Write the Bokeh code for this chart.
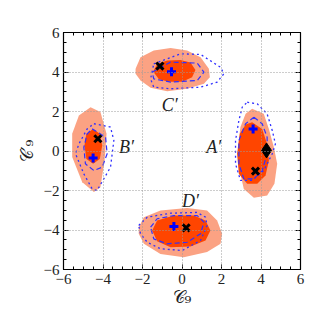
from bokeh.plotting import figure
from bokeh.models import LinearAxis, SingleIntervalTicker, CustomJSTickFormatter, Range1d
from bokeh.core.properties import value
from bokeh.embed import file_html
from bokeh.resources import INLINE

# ---- data ----
# light (outer) filled regions
light_A_x = [3.55, 4.14, 4.40, 4.65, 4.82, 4.68, 4.31, 3.64, 3.13, 2.88, 2.83, 2.96, 3.22]
light_A_y = [2.14, 1.88, 1.12, 0.19, -0.65, -1.66, -2.25, -2.37, -1.92, -0.82, 0.19, 1.21, 1.88]
light_B_x = [-4.63, -4.13, -3.82, -3.92, -4.13, -4.46, -5.05, -5.56, -5.56, -5.22]
light_B_y = [2.22, 1.97, 0.87, -0.48, -1.83, -2.08, -1.58, -0.31, 0.87, 1.80]
light_C_x = [-2.35, -2.10, -1.43, -0.58, 0.26, 0.94, 1.36, 1.41, 1.11, 0.26, -0.75, -1.59, -2.10, -2.35]
light_C_y = [4.16, 4.75, 5.09, 5.21, 5.09, 4.75, 4.16, 3.74, 3.40, 3.15, 3.03, 3.20, 3.57, 3.91]
light_D_x = [-2.19, -1.93, -1.09, 0.26, 1.27, 1.78, 2.03, 1.95, 1.27, 0.09, -1.09, -1.93, -2.19]
light_D_y = [-3.86, -3.35, -3.01, -2.88, -3.01, -3.52, -4.19, -4.70, -5.12, -5.38, -5.21, -4.70, -4.19]

# dark (inner) filled regions
dark_A_x = [3.55, 4.06, 4.31, 4.40, 4.23, 3.81, 3.30, 2.88, 2.79, 2.93, 3.22]
dark_A_y = [1.46, 1.12, 0.36, -0.48, -1.24, -1.66, -1.66, -1.16, -0.14, 0.87, 1.34]
dark_B_x = [-4.50, -4.16, -4.04, -4.16, -4.50, -4.84, -4.94, -4.84]
dark_B_y = [1.12, 0.87, 0.28, -0.40, -0.65, -0.40, 0.28, 0.87]
dark_C_x = [-1.46, -1.26, -0.75, -0.08, 0.43, 0.68, 0.51, 0.01, -0.67, -1.17]
dark_C_y = [4.02, 4.41, 4.58, 4.61, 4.48, 4.10, 3.73, 3.51, 3.51, 3.63]
dark_D_x = [-1.51, -1.26, -0.41, 0.60, 1.19, 1.44, 1.19, 0.43, -0.58, -1.26]
dark_D_y = [-4.02, -3.52, -3.27, -3.27, -3.52, -4.02, -4.53, -4.84, -4.87, -4.57]

# blue dotted (outer) contours
dot_A_x = [3.30, 3.81, 4.31, 4.57, 4.73, 4.57, 4.14, 3.55, 2.96, 2.71, 2.71, 2.88, 3.05]
dot_A_y = [2.47, 2.39, 1.88, 1.04, 0.36, -0.14, -0.99, -1.49, -1.49, -0.65, 0.53, 1.55, 2.22]
dot_B_x = [-4.46, -3.62, -3.45, -3.62, -4.30, -4.55, -4.97, -5.39, -5.22, -4.80]
dot_B_y = [1.38, 1.21, 0.53, -0.82, -2.00, -1.92, -1.16, -0.14, 0.36, 1.12]
dot_C_x = [-1.43, -0.08, 0.94, 1.95, 2.12, 1.78, 0.94, -0.58, -1.43, -1.59]
dot_C_y = [4.41, 4.92, 4.89, 4.24, 3.91, 3.49, 3.23, 3.15, 3.23, 3.65]
dot_D_x = [-2.19, -1.76, -0.58, 0.77, 1.19, 1.27, 0.94, 0.01, -1.09, -1.76, -2.10]
dot_D_y = [-3.77, -3.35, -3.15, -3.11, -3.35, -3.77, -4.53, -5.04, -4.95, -4.62, -4.19]

# blue dashed (inner) contours
dash_A_x = [3.64, 4.06, 4.31, 4.31, 4.06, 3.64, 3.13, 2.88, 2.88, 3.22]
dash_A_y = [1.71, 1.38, 0.70, -0.14, -0.99, -1.41, -1.41, -0.65, 0.53, 1.38]
dash_B_x = [-4.55, -3.87, -3.79, -4.04, -4.46, -4.89, -4.97, -4.80]
dash_B_y = [1.12, 0.70, -0.14, -0.82, -0.99, -0.65, 0.19, 0.87]
dash_C_x = [-1.51, -0.58, 0.77, 1.11, 0.77, -0.58, -1.43]
dash_C_y = [3.99, 4.50, 4.45, 3.99, 3.57, 3.49, 3.65]
dash_D_x = [-1.59, -1.26, -0.41, 0.77, 1.11, 0.94, 0.26, -0.75, -1.43]
dash_D_y = [-3.86, -3.43, -3.27, -3.27, -3.60, -4.19, -4.62, -4.70, -4.45]

# best-fit points
xmark_x = [-1.12, -4.26, 3.72, 0.21]
xmark_y = [4.30, 0.62, -1.02, -3.89]
plus_x = [-0.53, -4.50, 3.60, -0.41]
plus_y = [4.01, -0.35, 1.12, -3.82]
diamond_x = [4.28]
diamond_y = [0.03]

# region labels
label_text = ["C\u2032", "B\u2032", "A\u2032", "D\u2032"]
label_x = [-0.62, -2.81, 1.61, 0.43]
label_y = [2.31, 0.19, 0.19, -2.51]

x_label = "\U0001D49E\u2089"
y_label = "\U0001D49E\u2032\u2089"

# ---- figure ----
p = figure(width=310, height=310, x_range=Range1d(-6, 6), y_range=Range1d(-6, 6),
           output_backend="svg", toolbar_location=None,
           min_border_left=63, min_border_right=10, min_border_top=32, min_border_bottom=41)
p.background_fill_color = "white"
p.border_fill_color = "white"
p.outline_line_color = "black"
p.outline_line_width = 1.2

def close(a):
    return list(a) + [a[0]]

light_xs = [light_A_x, light_B_x, light_C_x, light_D_x]
light_ys = [light_A_y, light_B_y, light_C_y, light_D_y]
dark_xs = [dark_A_x, dark_B_x, dark_C_x, dark_D_x]
dark_ys = [dark_A_y, dark_B_y, dark_C_y, dark_D_y]
dot_xs = [close(a) for a in [dot_A_x, dot_B_x, dot_C_x, dot_D_x]]
dot_ys = [close(a) for a in [dot_A_y, dot_B_y, dot_C_y, dot_D_y]]
dash_xs = [close(a) for a in [dash_A_x, dash_B_x, dash_C_x, dash_D_x]]
dash_ys = [close(a) for a in [dash_A_y, dash_B_y, dash_C_y, dash_D_y]]

p.patches(light_xs, light_ys, fill_color="#FBA283", line_color=None)
p.patches(dark_xs, dark_ys, fill_color="#FF4500", line_color=None)
p.multi_line(dot_xs, dot_ys, line_color="#3030FF", line_width=1.3, line_dash="2 3")
p.multi_line(dash_xs, dash_ys, line_color="#3030FF", line_width=1.2, line_dash="5 3")

p.scatter(xmark_x, xmark_y, marker="x", size=10, line_color="black", line_width=3)
p.scatter(plus_x, plus_y, marker="cross", size=9, line_color="blue", line_width=3)
p.scatter(diamond_x, diamond_y, marker="diamond", size=15, fill_color="black", line_color="black")

p.text(label_x, label_y, text=label_text, text_align="center", text_baseline="middle",
       text_font=value("Liberation Serif"), text_font_style="italic", text_font_size="18px",
       text_color="#222222")

# ---- axes ----
ticker = SingleIntervalTicker(interval=2, num_minor_ticks=4)
fmt = CustomJSTickFormatter(code="return tick < 0 ? '\\u2212' + (-tick) : '' + tick;")

for ax in [p.xaxis[0], p.yaxis[0]]:
    ax.ticker = ticker
    ax.formatter = fmt
    ax.major_tick_in = 5
    ax.major_tick_out = 0
    ax.minor_tick_in = 3
    ax.minor_tick_out = 0
    ax.major_label_text_font = "Liberation Serif"
    ax.major_label_text_font_size = "15px"
    ax.major_label_text_color = "#222222"
    ax.axis_label_text_font = "DejaVu Serif"
    ax.axis_label_text_font_style = "normal"
    ax.axis_label_text_font_size = "17px"
    ax.axis_label_text_color = "#222222"
    ax.axis_line_color = "black"
    ax.major_label_standoff = 4

p.xaxis[0].axis_label = x_label
p.yaxis[0].axis_label = y_label
p.xaxis[0].axis_label_standoff = 0
p.yaxis[0].axis_label_standoff = 4

for loc in ["right", "above"]:
    ax = LinearAxis(ticker=ticker, formatter=CustomJSTickFormatter(code="return '';"))
    ax.major_tick_in = 5
    ax.major_tick_out = 0
    ax.minor_tick_in = 3
    ax.minor_tick_out = 0
    ax.major_label_text_font_size = "1px"
    ax.major_label_standoff = 0
    ax.axis_line_color = "black"
    p.add_layout(ax, loc)

p.grid.ticker = ticker
p.grid.grid_line_color = "#9a9a9a"
p.grid.grid_line_dash = "1 2"
p.grid.grid_line_width = 1
p.grid.level = "annotation"

open("out.html", "w").write(file_html(p, INLINE))
